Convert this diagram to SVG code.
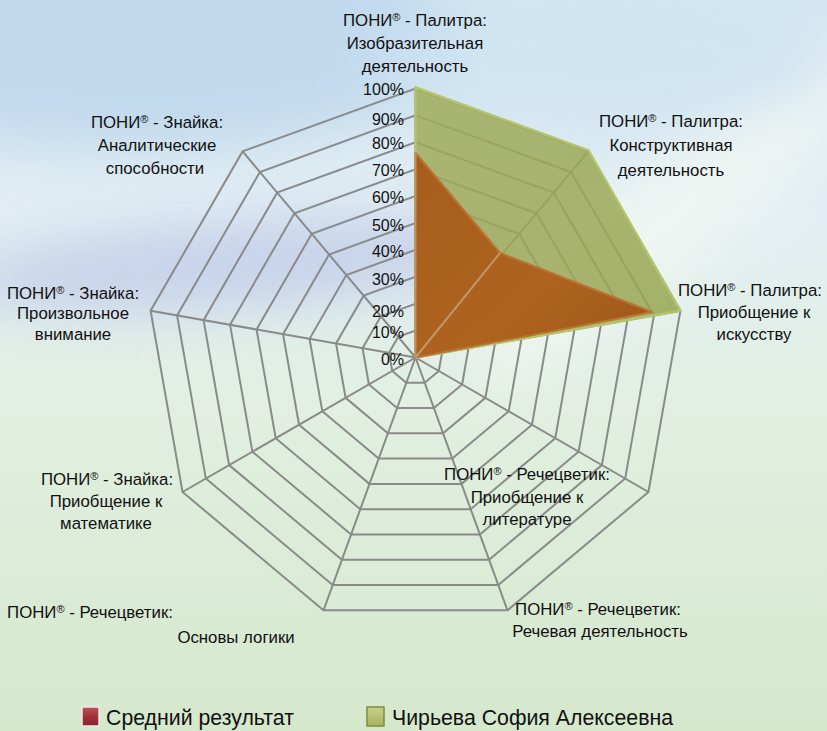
<svg xmlns="http://www.w3.org/2000/svg" xmlns:xlink="http://www.w3.org/1999/xlink" width="827" height="731" viewBox="0 0 827 731">
<defs>
<linearGradient id="bg" x1="0" y1="0" x2="0" y2="1">
<stop offset="0" stop-color="#d3e6f2"/>
<stop offset="0.3" stop-color="#e2eef3"/>
<stop offset="0.55" stop-color="#e2efe2"/>
<stop offset="1" stop-color="#d5e8cc"/>
</linearGradient>
<filter id="blur" x="-50%" y="-50%" width="200%" height="200%"><feGaussianBlur stdDeviation="25"/></filter>
<linearGradient id="gOrange" x1="0" y1="0" x2="1" y2="1">
<stop offset="0" stop-color="#a75d1d"/>
<stop offset="0.6" stop-color="#ae641f"/>
<stop offset="1" stop-color="#9c5519"/>
</linearGradient>
<linearGradient id="gGreen" x1="0" y1="0" x2="1" y2="1">
<stop offset="0" stop-color="#a1ab5a"/>
<stop offset="1" stop-color="#96a451"/>
</linearGradient>
<linearGradient id="mRed" x1="0" y1="0" x2="0" y2="1">
<stop offset="0" stop-color="#c0505a"/>
<stop offset="0.5" stop-color="#a2303a"/>
<stop offset="1" stop-color="#8a2530"/>
</linearGradient>
<linearGradient id="mGreen" x1="0" y1="0" x2="0" y2="1">
<stop offset="0" stop-color="#c8cf8a"/>
<stop offset="1" stop-color="#a9b360"/>
</linearGradient>
<polygon id="ring" points="0,-26.9 17.291,-20.607 26.491,-4.671 23.296,13.45 9.2,25.278 -9.2,25.278 -23.296,13.45 -26.491,-4.671 -17.291,-20.607" fill="none" stroke="#8a8a8a" stroke-width="2" vector-effect="non-scaling-stroke"/>
</defs>
<style>
.lbl { font-family: "Liberation Sans", Arial, sans-serif; font-size: 16.8px; fill: #111; text-anchor: middle; }
.reg { font-size: 11px; }
.tick { font-family: "Liberation Sans", Arial, sans-serif; font-size: 16px; fill: #111; text-anchor: end; }
.leg { font-family: "Liberation Sans", Arial, sans-serif; font-size: 21.3px; fill: #111; }
.spoke { stroke: #8a8a8a; stroke-width: 2; fill: none; }
</style>

<g id="background">
<rect x="0" y="0" width="827" height="731" fill="url(#bg)"/>
<ellipse cx="140" cy="40" rx="320" ry="110" fill="#bcd6ec" opacity="0.8" filter="url(#blur)"/>
<ellipse cx="230" cy="265" rx="270" ry="45" fill="#c5d0ea" opacity="0.9" filter="url(#blur)" transform="rotate(-4 230 265)"/>
<ellipse cx="680" cy="210" rx="260" ry="55" fill="#f4f8f2" opacity="0.7" filter="url(#blur)" transform="rotate(-40 680 210)"/>
<ellipse cx="600" cy="60" rx="240" ry="70" fill="#cfe3f2" opacity="0.7" filter="url(#blur)"/>
</g>

<g id="grid">
<use xlink:href="#ring" transform="translate(415.5 357.5) scale(1)"/>
<use xlink:href="#ring" transform="translate(415.5 357.5) scale(2)"/>
<use xlink:href="#ring" transform="translate(415.5 357.5) scale(3)"/>
<use xlink:href="#ring" transform="translate(415.5 357.5) scale(4)"/>
<use xlink:href="#ring" transform="translate(415.5 357.5) scale(5)"/>
<use xlink:href="#ring" transform="translate(415.5 357.5) scale(6)"/>
<use xlink:href="#ring" transform="translate(415.5 357.5) scale(7)"/>
<use xlink:href="#ring" transform="translate(415.5 357.5) scale(8)"/>
<use xlink:href="#ring" transform="translate(415.5 357.5) scale(9)"/>
<use xlink:href="#ring" transform="translate(415.5 357.5) scale(10)"/>
<path class="spoke" d="M415.5,357.5 L415.5,88.5 M415.5,357.5 L588.4,151.4 M415.5,357.5 L680.4,310.8 M415.5,357.5 L648.5,492 M415.5,357.5 L507.5,610.3 M415.5,357.5 L323.5,610.3 M415.5,357.5 L182.5,492 M415.5,357.5 L150.6,310.8 M415.5,357.5 L242.6,151.4"/>
</g>

<g id="series-chirieva">
<polygon points="415.5,357.5 415.5,87.5 588.4,150.4 680.4,310.8" fill="url(#gGreen)" fill-opacity="0.84" stroke="#b3c46a" stroke-width="2.5" stroke-linejoin="round"/>
</g>

<g id="series-average">
<polygon points="415.5,357.5 415.5,153 500,253 652,312" fill="url(#gOrange)" stroke="#b97433" stroke-width="2" stroke-linejoin="round"/>
<path d="M415.5,357.5 L500,253" stroke="#c9a27c" stroke-width="2" opacity="0.8"/>
<path d="M415.5,357.5 L415.5,153" stroke="#c9a27c" stroke-width="2" opacity="0.6"/>
</g>

<g id="ticks">
<text class="tick" x="404" y="95">100%</text>
<text class="tick" x="404" y="125">90%</text>
<text class="tick" x="404" y="149">80%</text>
<text class="tick" x="404" y="176">70%</text>
<text class="tick" x="404" y="203">60%</text>
<text class="tick" x="404" y="231">50%</text>
<text class="tick" x="404" y="257">40%</text>
<text class="tick" x="404" y="285">30%</text>
<text class="tick" x="404" y="317">20%</text>
<text class="tick" x="404" y="338">10%</text>
<text class="tick" x="404" y="365">0%</text>
</g>

<g id="axis-labels">
<g id="lbl-0">
<text class="lbl" x="415" y="26">ПОНИ<tspan class="reg" dy="-5">®</tspan><tspan dy="5"> - Палитра:</tspan></text>
<text class="lbl" x="415" y="49">Изобразительная</text>
<text class="lbl" x="415" y="72">деятельность</text>
</g>
<g id="lbl-1">
<text class="lbl" x="671" y="127">ПОНИ<tspan class="reg" dy="-5">®</tspan><tspan dy="5"> - Палитра:</tspan></text>
<text class="lbl" x="671" y="151">Конструктивная</text>
<text class="lbl" x="671" y="176">деятельность</text>
</g>
<g id="lbl-2">
<text class="lbl" x="750" y="296">ПОНИ<tspan class="reg" dy="-5">®</tspan><tspan dy="5"> - Палитра:</tspan></text>
<text class="lbl" x="754" y="318">Приобщение к</text>
<text class="lbl" x="754" y="340">искусству</text>
</g>
<g id="lbl-3">
<text class="lbl" x="527" y="480">ПОНИ<tspan class="reg" dy="-5">®</tspan><tspan dy="5"> - Речецветик:</tspan></text>
<text class="lbl" x="527" y="503">Приобщение к</text>
<text class="lbl" x="527" y="525">литературе</text>
</g>
<g id="lbl-4">
<text class="lbl" x="598" y="615">ПОНИ<tspan class="reg" dy="-5">®</tspan><tspan dy="5"> - Речецветик:</tspan></text>
<text class="lbl" x="600" y="637">Речевая деятельность</text>
</g>
<g id="lbl-5">
<text class="lbl" x="90" y="618">ПОНИ<tspan class="reg" dy="-5">®</tspan><tspan dy="5"> - Речецветик:</tspan></text>
<text class="lbl" x="236" y="643">Основы логики</text>
</g>
<g id="lbl-6">
<text class="lbl" x="107" y="485">ПОНИ<tspan class="reg" dy="-5">®</tspan><tspan dy="5"> - Знайка:</tspan></text>
<text class="lbl" x="106" y="507">Приобщение к</text>
<text class="lbl" x="106" y="529">математике</text>
</g>
<g id="lbl-7">
<text class="lbl" x="73" y="299">ПОНИ<tspan class="reg" dy="-5">®</tspan><tspan dy="5"> - Знайка:</tspan></text>
<text class="lbl" x="73" y="319">Произвольное</text>
<text class="lbl" x="73" y="340">внимание</text>
</g>
<g id="lbl-8">
<text class="lbl" x="157" y="128">ПОНИ<tspan class="reg" dy="-5">®</tspan><tspan dy="5"> - Знайка:</tspan></text>
<text class="lbl" x="157" y="151">Аналитические</text>
<text class="lbl" x="155" y="174">способности</text>
</g>
</g>

<g id="legend">
<g id="legend-average">
<rect x="82" y="707" width="17" height="19" fill="url(#mRed)" stroke="#f2e6e6" stroke-width="1.5"/>
<text class="leg" x="106" y="725">Средний результат</text>
</g>
<g id="legend-chirieva">
<rect x="367" y="707" width="17" height="19" fill="url(#mGreen)" stroke="#7f8c3e" stroke-width="1.5"/>
<text class="leg" x="392" y="725">Чирьева София Алексеевна</text>
</g>
</g>
</svg>
